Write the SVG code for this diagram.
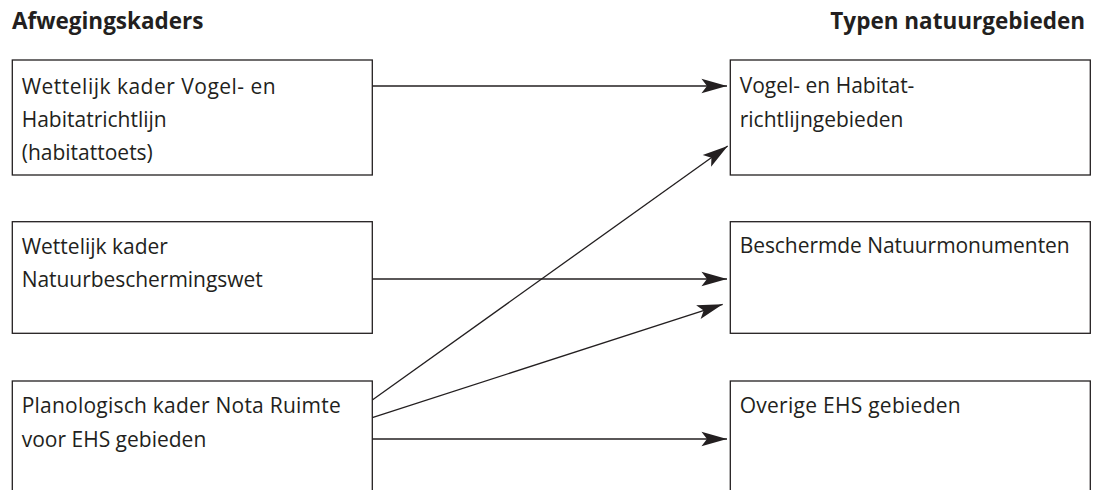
<svg xmlns="http://www.w3.org/2000/svg" width="1093" height="490" viewBox="0 0 1093 490">
<style>
.box{fill:#fff;stroke:#231f20;stroke-width:1.3}
.t{font-family:"Open Sans","Liberation Sans",sans-serif;font-size:21px;fill:#231f20}
.h{font-family:"Open Sans","Liberation Sans",sans-serif;font-size:22.5px;font-weight:bold;fill:#231f20}
.c{stroke:#231f20;stroke-width:1.3;fill:none;marker-end:url(#ah)}
</style>
<defs>
<marker id="ah" markerUnits="userSpaceOnUse" markerWidth="30" markerHeight="20" viewBox="-25 -8 27 16" refX="0" refY="0" orient="auto">
<path d="M0,0 L-23,-6.5 L-18,0 L-23,6.5 Z" fill="#231f20"/>
</marker>
</defs>
<rect width="1093" height="490" fill="#fff"/>
<text class="h" x="12" y="29">Afwegingskaders</text>
<text class="h" x="1085" y="29" text-anchor="end">Typen natuurgebieden</text>
<g id="n1"><rect class="box" x="12.3" y="60" width="360" height="115"/>
<text class="t" x="21.7" y="94.3" textLength="254">Wettelijk kader Vogel- en</text>
<text class="t" x="21.7" y="127">Habitatrichtlijn</text>
<text class="t" x="21.7" y="159.5">(habitattoets)</text></g>
<g id="n2"><rect class="box" x="12.3" y="221.7" width="360" height="111.6"/>
<text class="t" x="21.7" y="254.3">Wettelijk kader</text>
<text class="t" x="21.7" y="286.7" textLength="241">Natuurbeschermingswet</text></g>
<g id="n3"><rect class="box" x="12.3" y="381" width="360" height="130"/>
<text class="t" x="21.7" y="413.3" textLength="319">Planologisch kader Nota Ruimte</text>
<text class="t" x="21.7" y="446.7">voor EHS gebieden</text></g>
<g id="n4"><rect class="box" x="730.3" y="60" width="360" height="115"/>
<text class="t" x="739.7" y="93.3">Vogel- en Habitat-</text>
<text class="t" x="739.7" y="126.7">richtlijngebieden</text></g>
<g id="n5"><rect class="box" x="730.3" y="221.7" width="360" height="111.6"/>
<text class="t" x="739.7" y="253.3" textLength="330">Beschermde Natuurmonumenten</text></g>
<g id="n6"><rect class="box" x="730.3" y="381" width="360" height="130"/>
<text class="t" x="739.7" y="413.3" textLength="221">Overige EHS gebieden</text></g>
<g id="connectors">
<line class="c" x1="372.3" y1="86" x2="727" y2="86"/>
<line class="c" x1="372.3" y1="279" x2="727" y2="279"/>
<line class="c" x1="372.3" y1="439" x2="727" y2="439"/>
<line class="c" x1="372.3" y1="400" x2="727.7" y2="146"/>
<line class="c" x1="372.3" y1="417.7" x2="722.7" y2="304.3"/>
</g>
</svg>
